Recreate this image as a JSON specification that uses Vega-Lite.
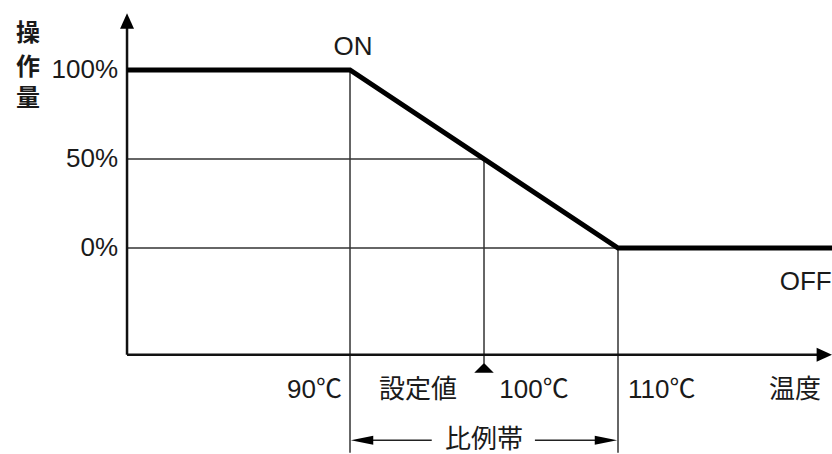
{
  "$schema": "https://vega.github.io/schema/vega-lite/v6.json",
  "width": 832,
  "height": 454,
  "autosize": {"type": "none"},
  "padding": 0,
  "background": "white",
  "config": {"view": {"stroke": null}, "text": {"font": "Liberation Sans, Noto Sans CJK JP", "fontSize": 26, "color": "#1a1a1a", "baseline": "middle"}},
  "datasets": {
    "curve": [{"temp": 73.36, "out": 100}, {"temp": 90, "out": 100}, {"temp": 110, "out": 0}, {"temp": 125.97, "out": 0}],
    "hguides": [{"from": 73.36, "to": 90, "level": 100}, {"from": 73.36, "to": 100, "level": 50}, {"from": 73.36, "to": 110, "level": 0}],
    "vguides": [{"temp": 90, "top": 100, "bottom": -115}, {"temp": 110, "top": 0, "bottom": -115}, {"temp": 100, "top": 50, "bottom": -65}],
    "axes": [{"x1": 73.36, "x2": 73.36, "y1": -60, "y2": 127}, {"x1": 73.36, "x2": 125.3, "y1": -60, "y2": -60}],
    "band": [{"from": 90.6, "to": 96.1, "level": -108}, {"from": 103.8, "to": 109.4, "level": -108}],
    "upArrows": [{"temp": 73.36, "out": 127.5}],
    "rightArrows": [{"temp": 125.4, "out": -60}],
    "setArrow": [{"temp": 100, "out": -67.4}],
    "bandLeft": [{"temp": 90.9, "out": -108}],
    "bandRight": [{"temp": 109.1, "out": -108}],
    "ylabels": [{"label": "100%", "temp": 72.69, "out": 100}, {"label": "50%", "temp": 72.69, "out": 50}, {"label": "0%", "temp": 72.69, "out": 0}],
    "ytitle": [{"label": "操", "temp": 65.97, "out": 120}, {"label": "作", "temp": 65.97, "out": 101}, {"label": "量", "temp": 65.97, "out": 83.5}],
    "rightLabels": [{"label": "90℃", "temp": 89.4, "out": -80}, {"label": "OFF", "temp": 125.95, "out": -19}],
    "centerLabels": [{"label": "ON", "temp": 90.22, "out": 113}, {"label": "設定値", "temp": 95.07, "out": -80}, {"label": "100℃", "temp": 103.73, "out": -80}, {"label": "温度", "temp": 123.2, "out": -80}, {"label": "比例帯", "temp": 100, "out": -108}],
    "leftLabels": [{"label": "110℃", "temp": 110.75, "out": -80}]
  },
  "encoding": {},
  "layer": [
    {
      "data": {"name": "hguides"},
      "mark": {"type": "rule", "color": "#333", "strokeWidth": 1.5},
      "encoding": {
        "x": {"field": "from", "type": "quantitative", "scale": {"domain": [63.88, 125.97], "nice": false, "zero": false}, "axis": null},
        "x2": {"field": "to"},
        "y": {"field": "level", "type": "quantitative", "scale": {"domain": [-115.73, 139.33], "nice": false, "zero": false}, "axis": null}
      }
    },
    {
      "data": {"name": "vguides"},
      "mark": {"type": "rule", "color": "#333", "strokeWidth": 1.5},
      "encoding": {
        "x": {"field": "temp", "type": "quantitative"},
        "y": {"field": "top", "type": "quantitative"},
        "y2": {"field": "bottom"}
      }
    },
    {
      "data": {"name": "axes"},
      "mark": {"type": "rule", "color": "#111", "strokeWidth": 2.5},
      "encoding": {
        "x": {"field": "x1", "type": "quantitative"},
        "x2": {"field": "x2"},
        "y": {"field": "y1", "type": "quantitative"},
        "y2": {"field": "y2"}
      }
    },
    {
      "data": {"name": "band"},
      "mark": {"type": "rule", "color": "#222", "strokeWidth": 1.5},
      "encoding": {
        "x": {"field": "from", "type": "quantitative"},
        "x2": {"field": "to"},
        "y": {"field": "level", "type": "quantitative"}
      }
    },
    {
      "data": {"name": "curve"},
      "mark": {"type": "line", "color": "#000", "strokeWidth": 5, "strokeJoin": "miter"},
      "encoding": {
        "x": {"field": "temp", "type": "quantitative"},
        "y": {"field": "out", "type": "quantitative"}
      }
    },
    {
      "data": {"name": "upArrows"},
      "mark": {"type": "point", "shape": "M0,-1L0.9,1L-0.9,1Z", "filled": true, "color": "#000", "size": 240, "opacity": 1},
      "encoding": {"x": {"field": "temp", "type": "quantitative"}, "y": {"field": "out", "type": "quantitative"}}
    },
    {
      "data": {"name": "rightArrows"},
      "mark": {"type": "point", "shape": "M1,0L-1,-0.9L-1,0.9Z", "filled": true, "color": "#000", "size": 240, "opacity": 1},
      "encoding": {"x": {"field": "temp", "type": "quantitative"}, "y": {"field": "out", "type": "quantitative"}}
    },
    {
      "data": {"name": "setArrow"},
      "mark": {"type": "point", "shape": "M-1,0.5L0,-0.5L1,0.5Z", "filled": true, "color": "#000", "size": 380, "opacity": 1},
      "encoding": {"x": {"field": "temp", "type": "quantitative"}, "y": {"field": "out", "type": "quantitative"}}
    },
    {
      "data": {"name": "bandLeft"},
      "mark": {"type": "point", "shape": "M-1,0L1,-0.4L1,0.4Z", "filled": true, "color": "#000", "size": 500, "opacity": 1},
      "encoding": {"x": {"field": "temp", "type": "quantitative"}, "y": {"field": "out", "type": "quantitative"}}
    },
    {
      "data": {"name": "bandRight"},
      "mark": {"type": "point", "shape": "M1,0L-1,-0.4L-1,0.4Z", "filled": true, "color": "#000", "size": 500, "opacity": 1},
      "encoding": {"x": {"field": "temp", "type": "quantitative"}, "y": {"field": "out", "type": "quantitative"}}
    },
    {
      "data": {"name": "ylabels"},
      "mark": {"type": "text", "align": "right"},
      "encoding": {"x": {"field": "temp", "type": "quantitative"}, "y": {"field": "out", "type": "quantitative"}, "text": {"field": "label"}}
    },
    {
      "data": {"name": "ytitle"},
      "mark": {"type": "text", "align": "center", "fontWeight": "bold", "fontSize": 24},
      "encoding": {"x": {"field": "temp", "type": "quantitative"}, "y": {"field": "out", "type": "quantitative"}, "text": {"field": "label"}}
    },
    {
      "data": {"name": "rightLabels"},
      "mark": {"type": "text", "align": "right"},
      "encoding": {"x": {"field": "temp", "type": "quantitative"}, "y": {"field": "out", "type": "quantitative"}, "text": {"field": "label"}}
    },
    {
      "data": {"name": "centerLabels"},
      "mark": {"type": "text", "align": "center"},
      "encoding": {"x": {"field": "temp", "type": "quantitative"}, "y": {"field": "out", "type": "quantitative"}, "text": {"field": "label"}}
    },
    {
      "data": {"name": "leftLabels"},
      "mark": {"type": "text", "align": "left"},
      "encoding": {"x": {"field": "temp", "type": "quantitative"}, "y": {"field": "out", "type": "quantitative"}, "text": {"field": "label"}}
    }
  ]
}
